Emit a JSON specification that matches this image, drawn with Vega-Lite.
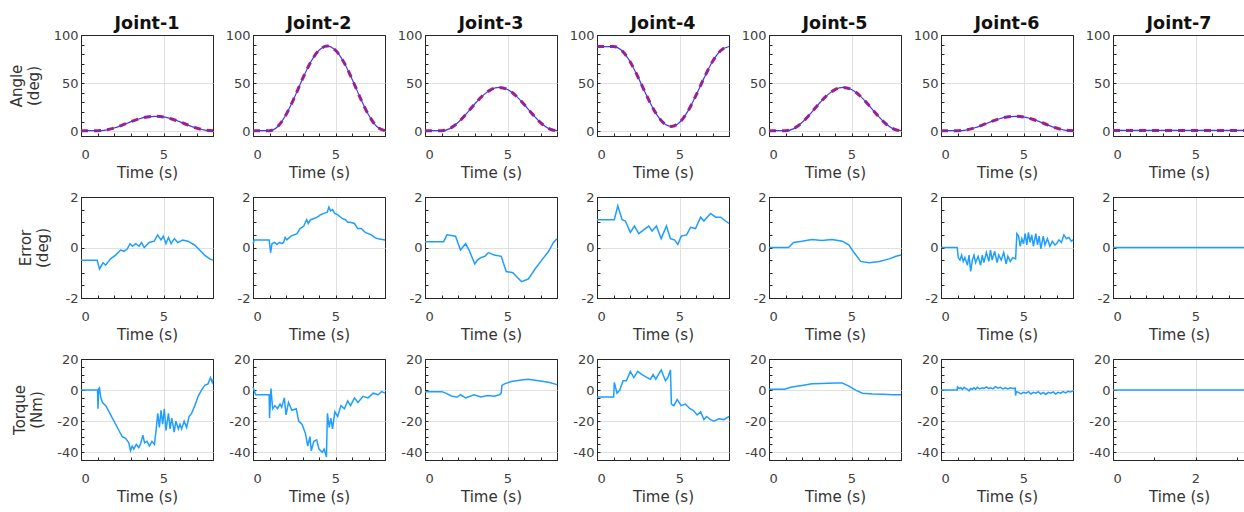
{
"$schema":"https://vega.github.io/schema/vega-lite/v6.json",
"padding":{"left":8,"top":14,"right":0,"bottom":5},
"datasets":{
"ang":[
{"j":1,"t":0,"d":0.5,"a":0.5},{"j":1,"t":0.5,"d":0.5,"a":0.5},{"j":1,"t":1,"d":0.5,"a":0.5},{"j":1,"t":1.5,"d":1.2,"a":1.2},{"j":1,"t":2,"d":3.3,"a":3.3},{"j":1,"t":2.5,"d":6.3,"a":6.3},{"j":1,"t":3,"d":9.7,"a":9.7},{"j":1,"t":3.5,"d":12.7,"a":12.7},{"j":1,"t":4,"d":14.8,"a":14.8},{"j":1,"t":4.5,"d":15.5,"a":15.5},{"j":1,"t":5,"d":14.8,"a":14.8},{"j":1,"t":5.5,"d":12.7,"a":12.7},{"j":1,"t":6,"d":9.7,"a":9.7},{"j":1,"t":6.5,"d":6.3,"a":6.3},{"j":1,"t":7,"d":3.3,"a":3.3},{"j":1,"t":7.5,"d":1.2,"a":1.2},{"j":1,"t":8,"d":0.5,"a":0.5},
{"j":2,"t":0,"d":0.5,"a":0.5},{"j":2,"t":0.5,"d":0.5,"a":0.5},{"j":2,"t":1,"d":0.5,"a":0.5},{"j":2,"t":1.5,"d":4.9,"a":4.9},{"j":2,"t":2,"d":17.1,"a":17.1},{"j":2,"t":2.5,"d":34.7,"a":34.7},{"j":2,"t":3,"d":54.3,"a":54.3},{"j":2,"t":3.5,"d":71.9,"a":71.9},{"j":2,"t":4,"d":84.1,"a":84.1},{"j":2,"t":4.5,"d":88.5,"a":88.5},{"j":2,"t":5,"d":84.1,"a":84.1},{"j":2,"t":5.5,"d":71.9,"a":71.9},{"j":2,"t":6,"d":54.3,"a":54.3},{"j":2,"t":6.5,"d":34.7,"a":34.7},{"j":2,"t":7,"d":17.1,"a":17.1},{"j":2,"t":7.5,"d":4.9,"a":4.9},{"j":2,"t":8,"d":0.5,"a":0.5},
{"j":3,"t":0,"d":0.5,"a":0.5},{"j":3,"t":0.5,"d":0.5,"a":0.5},{"j":3,"t":1,"d":0.5,"a":0.5},{"j":3,"t":1.5,"d":2.7,"a":2.7},{"j":3,"t":2,"d":9,"a":9},{"j":3,"t":2.5,"d":18,"a":18},{"j":3,"t":3,"d":28,"a":28},{"j":3,"t":3.5,"d":37,"a":37},{"j":3,"t":4,"d":43.3,"a":43.3},{"j":3,"t":4.5,"d":45.5,"a":45.5},{"j":3,"t":5,"d":43.3,"a":43.3},{"j":3,"t":5.5,"d":37,"a":37},{"j":3,"t":6,"d":28,"a":28},{"j":3,"t":6.5,"d":18,"a":18},{"j":3,"t":7,"d":9,"a":9},{"j":3,"t":7.5,"d":2.7,"a":2.7},{"j":3,"t":8,"d":0.5,"a":0.5},
{"j":4,"t":0,"d":88,"a":88},{"j":4,"t":0.5,"d":88,"a":88},{"j":4,"t":1,"d":88,"a":88},{"j":4,"t":1.5,"d":83.9,"a":83.9},{"j":4,"t":2,"d":72.4,"a":72.4},{"j":4,"t":2.5,"d":55.7,"a":55.7},{"j":4,"t":3,"d":37.3,"a":37.3},{"j":4,"t":3.5,"d":20.6,"a":20.6},{"j":4,"t":4,"d":9.1,"a":9.1},{"j":4,"t":4.5,"d":5,"a":5},{"j":4,"t":5,"d":9.1,"a":9.1},{"j":4,"t":5.5,"d":20.6,"a":20.6},{"j":4,"t":6,"d":37.3,"a":37.3},{"j":4,"t":6.5,"d":55.7,"a":55.7},{"j":4,"t":7,"d":72.4,"a":72.4},{"j":4,"t":7.5,"d":83.9,"a":83.9},{"j":4,"t":8,"d":88,"a":88},
{"j":5,"t":0,"d":0.5,"a":0.5},{"j":5,"t":0.5,"d":0.5,"a":0.5},{"j":5,"t":1,"d":0.5,"a":0.5},{"j":5,"t":1.5,"d":2.7,"a":2.7},{"j":5,"t":2,"d":9,"a":9},{"j":5,"t":2.5,"d":18,"a":18},{"j":5,"t":3,"d":28,"a":28},{"j":5,"t":3.5,"d":37,"a":37},{"j":5,"t":4,"d":43.3,"a":43.3},{"j":5,"t":4.5,"d":45.5,"a":45.5},{"j":5,"t":5,"d":43.3,"a":43.3},{"j":5,"t":5.5,"d":37,"a":37},{"j":5,"t":6,"d":28,"a":28},{"j":5,"t":6.5,"d":18,"a":18},{"j":5,"t":7,"d":9,"a":9},{"j":5,"t":7.5,"d":2.7,"a":2.7},{"j":5,"t":8,"d":0.5,"a":0.5},
{"j":6,"t":0,"d":0.5,"a":0.5},{"j":6,"t":0.5,"d":0.5,"a":0.5},{"j":6,"t":1,"d":0.5,"a":0.5},{"j":6,"t":1.5,"d":1.2,"a":1.2},{"j":6,"t":2,"d":3.3,"a":3.3},{"j":6,"t":2.5,"d":6.3,"a":6.3},{"j":6,"t":3,"d":9.7,"a":9.7},{"j":6,"t":3.5,"d":12.7,"a":12.7},{"j":6,"t":4,"d":14.8,"a":14.8},{"j":6,"t":4.5,"d":15.5,"a":15.5},{"j":6,"t":5,"d":14.8,"a":14.8},{"j":6,"t":5.5,"d":12.7,"a":12.7},{"j":6,"t":6,"d":9.7,"a":9.7},{"j":6,"t":6.5,"d":6.3,"a":6.3},{"j":6,"t":7,"d":3.3,"a":3.3},{"j":6,"t":7.5,"d":1.2,"a":1.2},{"j":6,"t":8,"d":0.5,"a":0.5},
{"j":7,"t":0,"d":0.8,"a":0.8},{"j":7,"t":2,"d":0.8,"a":0.8},{"j":7,"t":4,"d":0.8,"a":0.8},{"j":7,"t":6,"d":0.8,"a":0.8},{"j":7,"t":8,"d":0.8,"a":0.8}
],
"err":[
{"j":1,"t":0,"e":-0.5},{"j":1,"t":0.98,"e":-0.5},{"j":1,"t":1.12,"e":-0.85},{"j":1,"t":1.34,"e":-0.6},{"j":1,"t":1.49,"e":-0.7},{"j":1,"t":1.79,"e":-0.45},{"j":1,"t":2.1,"e":-0.3},{"j":1,"t":2.4,"e":-0.1},{"j":1,"t":2.61,"e":-0.15},{"j":1,"t":2.81,"e":-0.05},{"j":1,"t":2.97,"e":0.15},{"j":1,"t":3.12,"e":0.05},{"j":1,"t":3.32,"e":0.15},{"j":1,"t":3.52,"e":0.05},{"j":1,"t":3.67,"e":0.2},{"j":1,"t":3.83,"e":0},{"j":1,"t":4.13,"e":0.2},{"j":1,"t":4.44,"e":0.25},{"j":1,"t":4.64,"e":0.5},{"j":1,"t":4.85,"e":0.3},{"j":1,"t":4.99,"e":0.45},{"j":1,"t":5.15,"e":0.15},{"j":1,"t":5.3,"e":0.4},{"j":1,"t":5.46,"e":0.15},{"j":1,"t":5.66,"e":0.35},{"j":1,"t":5.87,"e":0.2},{"j":1,"t":6.17,"e":0.3},{"j":1,"t":6.48,"e":0.25},{"j":1,"t":6.88,"e":0.1},{"j":1,"t":7.19,"e":-0.1},{"j":1,"t":7.49,"e":-0.3},{"j":1,"t":7.8,"e":-0.45},{"j":1,"t":8,"e":-0.5},
{"j":2,"t":0,"e":0.15},{"j":2,"t":0.08,"e":0.3},{"j":2,"t":0.98,"e":0.3},{"j":2,"t":1.07,"e":-0.2},{"j":2,"t":1.15,"e":0.15},{"j":2,"t":1.3,"e":0.2},{"j":2,"t":1.45,"e":0.12},{"j":2,"t":1.6,"e":0.2},{"j":2,"t":1.75,"e":0.15},{"j":2,"t":1.85,"e":0.2},{"j":2,"t":1.95,"e":0.4},{"j":2,"t":2.05,"e":0.3},{"j":2,"t":2.3,"e":0.45},{"j":2,"t":2.67,"e":0.55},{"j":2,"t":2.85,"e":0.75},{"j":2,"t":3.08,"e":0.85},{"j":2,"t":3.25,"e":1.1},{"j":2,"t":3.35,"e":0.95},{"j":2,"t":3.49,"e":1.1},{"j":2,"t":3.7,"e":1.15},{"j":2,"t":3.9,"e":1.2},{"j":2,"t":4.1,"e":1.3},{"j":2,"t":4.3,"e":1.35},{"j":2,"t":4.5,"e":1.4},{"j":2,"t":4.6,"e":1.6},{"j":2,"t":4.7,"e":1.45},{"j":2,"t":4.82,"e":1.5},{"j":2,"t":4.95,"e":1.35},{"j":2,"t":5.13,"e":1.3},{"j":2,"t":5.4,"e":1.15},{"j":2,"t":5.6,"e":1.1},{"j":2,"t":5.74,"e":1.0},{"j":2,"t":5.9,"e":1.0},{"j":2,"t":6.15,"e":0.95},{"j":2,"t":6.35,"e":0.75},{"j":2,"t":6.56,"e":0.75},{"j":2,"t":6.8,"e":0.6},{"j":2,"t":7.18,"e":0.5},{"j":2,"t":7.4,"e":0.38},{"j":2,"t":7.59,"e":0.35},{"j":2,"t":8,"e":0.3},
{"j":3,"t":0,"e":0.23},{"j":3,"t":1.13,"e":0.23},{"j":3,"t":1.33,"e":0.5},{"j":3,"t":1.85,"e":0.45},{"j":3,"t":2.15,"e":-0.1},{"j":3,"t":2.46,"e":0.15},{"j":3,"t":2.67,"e":-0.1},{"j":3,"t":3.02,"e":-0.65},{"j":3,"t":3.18,"e":-0.5},{"j":3,"t":3.38,"e":-0.4},{"j":3,"t":3.63,"e":-0.35},{"j":3,"t":3.84,"e":-0.2},{"j":3,"t":4.2,"e":-0.3},{"j":3,"t":4.62,"e":-0.35},{"j":3,"t":4.92,"e":-0.95},{"j":3,"t":5.33,"e":-1.0},{"j":3,"t":5.54,"e":-1.15},{"j":3,"t":5.85,"e":-1.35},{"j":3,"t":6.26,"e":-1.25},{"j":3,"t":6.67,"e":-0.85},{"j":3,"t":7.08,"e":-0.5},{"j":3,"t":7.49,"e":-0.15},{"j":3,"t":7.79,"e":0.2},{"j":3,"t":8,"e":0.35},
{"j":4,"t":0,"e":1.1},{"j":4,"t":1.05,"e":1.1},{"j":4,"t":1.26,"e":1.65},{"j":4,"t":1.52,"e":1.1},{"j":4,"t":1.72,"e":1.05},{"j":4,"t":2.02,"e":0.6},{"j":4,"t":2.27,"e":0.85},{"j":4,"t":2.53,"e":0.55},{"j":4,"t":2.83,"e":0.7},{"j":4,"t":3.14,"e":0.85},{"j":4,"t":3.34,"e":0.65},{"j":4,"t":3.6,"e":0.85},{"j":4,"t":3.89,"e":0.35},{"j":4,"t":4.21,"e":0.85},{"j":4,"t":4.45,"e":0.35},{"j":4,"t":4.7,"e":0.3},{"j":4,"t":4.9,"e":0.12},{"j":4,"t":5.1,"e":0.45},{"j":4,"t":5.43,"e":0.5},{"j":4,"t":5.67,"e":0.8},{"j":4,"t":5.97,"e":0.75},{"j":4,"t":6.28,"e":1.2},{"j":4,"t":6.48,"e":1.05},{"j":4,"t":6.88,"e":1.35},{"j":4,"t":7.19,"e":1.2},{"j":4,"t":7.49,"e":1.2},{"j":4,"t":7.69,"e":1.1},{"j":4,"t":8,"e":0.95},
{"j":5,"t":0,"e":0},{"j":5,"t":1.18,"e":0},{"j":5,"t":1.49,"e":0.2},{"j":5,"t":2,"e":0.25},{"j":5,"t":2.6,"e":0.32},{"j":5,"t":3.2,"e":0.28},{"j":5,"t":3.83,"e":0.32},{"j":5,"t":4.44,"e":0.25},{"j":5,"t":4.85,"e":0.1},{"j":5,"t":5.15,"e":-0.2},{"j":5,"t":5.56,"e":-0.55},{"j":5,"t":6.07,"e":-0.6},{"j":5,"t":6.68,"e":-0.55},{"j":5,"t":7.29,"e":-0.45},{"j":5,"t":7.7,"e":-0.35},{"j":5,"t":8,"e":-0.3},
{"j":6,"t":0,"e":0},{"j":6,"t":0.98,"e":0},{"j":6,"t":1.05,"e":-0.4},{"j":6,"t":1.15,"e":-0.5},{"j":6,"t":1.25,"e":-0.3},{"j":6,"t":1.35,"e":-0.55},{"j":6,"t":1.45,"e":-0.4},{"j":6,"t":1.6,"e":-0.7},{"j":6,"t":1.7,"e":-0.3},{"j":6,"t":1.8,"e":-0.95},{"j":6,"t":1.9,"e":-0.5},{"j":6,"t":2.0,"e":-0.3},{"j":6,"t":2.1,"e":-0.6},{"j":6,"t":2.25,"e":-0.35},{"j":6,"t":2.4,"e":-0.7},{"j":6,"t":2.5,"e":-0.3},{"j":6,"t":2.6,"e":-0.6},{"j":6,"t":2.75,"e":-0.2},{"j":6,"t":2.9,"e":-0.55},{"j":6,"t":3.0,"e":-0.1},{"j":6,"t":3.1,"e":-0.5},{"j":6,"t":3.25,"e":-0.15},{"j":6,"t":3.4,"e":-0.6},{"j":6,"t":3.5,"e":-0.3},{"j":6,"t":3.65,"e":-0.5},{"j":6,"t":3.8,"e":-0.2},{"j":6,"t":3.95,"e":-0.65},{"j":6,"t":4.05,"e":-0.35},{"j":6,"t":4.2,"e":-0.55},{"j":6,"t":4.35,"e":-0.4},{"j":6,"t":4.52,"e":-0.45},{"j":6,"t":4.6,"e":0.55},{"j":6,"t":4.7,"e":0.45},{"j":6,"t":4.8,"e":0.05},{"j":6,"t":4.9,"e":0.35},{"j":6,"t":5.0,"e":0.15},{"j":6,"t":5.1,"e":0.55},{"j":6,"t":5.2,"e":0.1},{"j":6,"t":5.3,"e":0.6},{"j":6,"t":5.4,"e":0.2},{"j":6,"t":5.5,"e":0.5},{"j":6,"t":5.6,"e":0.05},{"j":6,"t":5.75,"e":0.55},{"j":6,"t":5.85,"e":0.1},{"j":6,"t":5.95,"e":0.45},{"j":6,"t":6.05,"e":-0.05},{"j":6,"t":6.2,"e":0.45},{"j":6,"t":6.3,"e":0.1},{"j":6,"t":6.45,"e":0.35},{"j":6,"t":6.6,"e":0.05},{"j":6,"t":6.75,"e":0.25},{"j":6,"t":6.9,"e":0.1},{"j":6,"t":7.0,"e":0.15},{"j":6,"t":7.15,"e":0.3},{"j":6,"t":7.3,"e":0.2},{"j":6,"t":7.45,"e":0.5},{"j":6,"t":7.6,"e":0.35},{"j":6,"t":7.75,"e":0.4},{"j":6,"t":7.9,"e":0.25},{"j":6,"t":8,"e":0.3},
{"j":7,"t":0,"e":0},{"j":7,"t":8,"e":0}
],
"tor":[
{"j":1,"t":0,"q":0},{"j":1,"t":1.0,"q":0},{"j":1,"t":1.03,"q":-12},{"j":1,"t":1.07,"q":1},{"j":1,"t":1.12,"q":1.5},{"j":1,"t":1.2,"q":-5},{"j":1,"t":1.3,"q":-8},{"j":1,"t":1.5,"q":-10},{"j":1,"t":1.7,"q":-14},{"j":1,"t":1.9,"q":-18},{"j":1,"t":2.1,"q":-22},{"j":1,"t":2.3,"q":-26},{"j":1,"t":2.5,"q":-30},{"j":1,"t":2.7,"q":-31},{"j":1,"t":2.9,"q":-34},{"j":1,"t":3.0,"q":-39},{"j":1,"t":3.1,"q":-36},{"j":1,"t":3.2,"q":-38},{"j":1,"t":3.35,"q":-35},{"j":1,"t":3.5,"q":-37},{"j":1,"t":3.6,"q":-35},{"j":1,"t":3.75,"q":-29},{"j":1,"t":3.85,"q":-34},{"j":1,"t":4.0,"q":-33},{"j":1,"t":4.15,"q":-36},{"j":1,"t":4.3,"q":-33},{"j":1,"t":4.45,"q":-35},{"j":1,"t":4.55,"q":-26},{"j":1,"t":4.65,"q":-15},{"j":1,"t":4.75,"q":-24},{"j":1,"t":4.85,"q":-13},{"j":1,"t":4.95,"q":-22},{"j":1,"t":5.05,"q":-12},{"j":1,"t":5.15,"q":-26},{"j":1,"t":5.3,"q":-15},{"j":1,"t":5.4,"q":-25},{"j":1,"t":5.5,"q":-18},{"j":1,"t":5.65,"q":-27},{"j":1,"t":5.75,"q":-20},{"j":1,"t":5.9,"q":-25},{"j":1,"t":6.0,"q":-22},{"j":1,"t":6.1,"q":-25},{"j":1,"t":6.25,"q":-20},{"j":1,"t":6.4,"q":-24},{"j":1,"t":6.55,"q":-17},{"j":1,"t":6.7,"q":-15},{"j":1,"t":6.9,"q":-10},{"j":1,"t":7.1,"q":-4},{"j":1,"t":7.3,"q":0},{"j":1,"t":7.5,"q":3},{"j":1,"t":7.7,"q":4},{"j":1,"t":7.85,"q":8},{"j":1,"t":7.95,"q":5},{"j":1,"t":8,"q":7},
{"j":2,"t":0,"q":2},{"j":2,"t":0.16,"q":-3},{"j":2,"t":0.98,"q":-3},{"j":2,"t":1.0,"q":-18},{"j":2,"t":1.09,"q":1},{"j":2,"t":1.19,"q":-12},{"j":2,"t":1.33,"q":-10},{"j":2,"t":1.48,"q":-12},{"j":2,"t":1.64,"q":-9},{"j":2,"t":1.74,"q":-11},{"j":2,"t":1.9,"q":-5},{"j":2,"t":2.0,"q":-16},{"j":2,"t":2.15,"q":-8},{"j":2,"t":2.36,"q":-13},{"j":2,"t":2.62,"q":-12},{"j":2,"t":2.77,"q":-20},{"j":2,"t":2.97,"q":-22},{"j":2,"t":3.18,"q":-28},{"j":2,"t":3.32,"q":-36},{"j":2,"t":3.45,"q":-30},{"j":2,"t":3.53,"q":-39},{"j":2,"t":3.69,"q":-33},{"j":2,"t":3.86,"q":-32},{"j":2,"t":4.0,"q":-38},{"j":2,"t":4.2,"q":-40},{"j":2,"t":4.31,"q":-38},{"j":2,"t":4.45,"q":-43},{"j":2,"t":4.51,"q":-15},{"j":2,"t":4.62,"q":-24},{"j":2,"t":4.72,"q":-18},{"j":2,"t":4.82,"q":-25},{"j":2,"t":4.96,"q":-14},{"j":2,"t":5.13,"q":-17},{"j":2,"t":5.33,"q":-10},{"j":2,"t":5.54,"q":-12},{"j":2,"t":5.74,"q":-7},{"j":2,"t":5.91,"q":-10},{"j":2,"t":6.15,"q":-5},{"j":2,"t":6.36,"q":-8},{"j":2,"t":6.67,"q":-4},{"j":2,"t":6.97,"q":-5},{"j":2,"t":7.28,"q":-2},{"j":2,"t":7.59,"q":-3},{"j":2,"t":7.79,"q":-1},{"j":2,"t":8,"q":-2},
{"j":3,"t":0,"q":-1},{"j":3,"t":1.03,"q":-1},{"j":3,"t":1.25,"q":-2},{"j":3,"t":1.64,"q":-4},{"j":3,"t":1.95,"q":-4.5},{"j":3,"t":2.15,"q":-3},{"j":3,"t":2.46,"q":-5},{"j":3,"t":2.97,"q":-3},{"j":3,"t":3.38,"q":-4.5},{"j":3,"t":3.79,"q":-3.5},{"j":3,"t":4.2,"q":-4},{"j":3,"t":4.51,"q":-3},{"j":3,"t":4.62,"q":-2},{"j":3,"t":4.66,"q":3},{"j":3,"t":4.82,"q":4},{"j":3,"t":5.23,"q":5.5},{"j":3,"t":5.85,"q":6.5},{"j":3,"t":6.26,"q":7},{"j":3,"t":6.87,"q":6},{"j":3,"t":7.49,"q":5},{"j":3,"t":8,"q":3.5},
{"j":4,"t":0,"q":-4.5},{"j":4,"t":1.01,"q":-4.5},{"j":4,"t":1.05,"q":5},{"j":4,"t":1.21,"q":-2},{"j":4,"t":1.38,"q":0},{"j":4,"t":1.58,"q":6},{"j":4,"t":1.78,"q":6},{"j":4,"t":2.02,"q":12},{"j":4,"t":2.23,"q":8},{"j":4,"t":2.47,"q":12},{"j":4,"t":2.73,"q":10},{"j":4,"t":3.04,"q":8},{"j":4,"t":3.24,"q":7},{"j":4,"t":3.4,"q":10},{"j":4,"t":3.56,"q":7},{"j":4,"t":3.89,"q":13},{"j":4,"t":4.15,"q":6},{"j":4,"t":4.29,"q":8},{"j":4,"t":4.45,"q":13},{"j":4,"t":4.51,"q":-9},{"j":4,"t":4.66,"q":-10},{"j":4,"t":4.86,"q":-6},{"j":4,"t":5.1,"q":-10},{"j":4,"t":5.36,"q":-9},{"j":4,"t":5.63,"q":-12},{"j":4,"t":5.83,"q":-13},{"j":4,"t":6.07,"q":-16},{"j":4,"t":6.28,"q":-14},{"j":4,"t":6.48,"q":-19},{"j":4,"t":6.64,"q":-17},{"j":4,"t":6.88,"q":-19},{"j":4,"t":7.09,"q":-20},{"j":4,"t":7.39,"q":-18.5},{"j":4,"t":7.69,"q":-19},{"j":4,"t":8,"q":-17},
{"j":5,"t":0,"q":0.5},{"j":5,"t":0.94,"q":0.5},{"j":5,"t":1.38,"q":2},{"j":5,"t":2.0,"q":3},{"j":5,"t":2.6,"q":4},{"j":5,"t":3.2,"q":4.2},{"j":5,"t":4.03,"q":4.5},{"j":5,"t":4.44,"q":4.5},{"j":5,"t":4.85,"q":2.5},{"j":5,"t":5.25,"q":0},{"j":5,"t":5.66,"q":-2},{"j":5,"t":6.27,"q":-2.5},{"j":5,"t":6.88,"q":-2.7},{"j":5,"t":7.5,"q":-3},{"j":5,"t":8,"q":-3},
{"j":6,"t":0,"q":0},{"j":6,"t":0.98,"q":0},{"j":6,"t":1.0,"q":2},{"j":6,"t":1.1,"q":1},{"j":6,"t":1.2,"q":1.5},{"j":6,"t":1.3,"q":0.5},{"j":6,"t":1.4,"q":1.8},{"j":6,"t":1.5,"q":1},{"j":6,"t":1.6,"q":0.5},{"j":6,"t":1.7,"q":-0.5},{"j":6,"t":1.8,"q":1},{"j":6,"t":1.9,"q":0.5},{"j":6,"t":2.0,"q":1.5},{"j":6,"t":2.1,"q":0.5},{"j":6,"t":2.2,"q":1.8},{"j":6,"t":2.35,"q":0.8},{"j":6,"t":2.5,"q":1.5},{"j":6,"t":2.6,"q":1},{"j":6,"t":2.75,"q":2},{"j":6,"t":2.9,"q":1},{"j":6,"t":3.0,"q":1.5},{"j":6,"t":3.15,"q":0.8},{"j":6,"t":3.3,"q":2.2},{"j":6,"t":3.45,"q":1.2},{"j":6,"t":3.6,"q":1.8},{"j":6,"t":3.75,"q":0.8},{"j":6,"t":3.9,"q":1.5},{"j":6,"t":4.05,"q":0.8},{"j":6,"t":4.2,"q":1.5},{"j":6,"t":4.35,"q":1},{"j":6,"t":4.5,"q":1.2},{"j":6,"t":4.52,"q":-3.5},{"j":6,"t":4.56,"q":-1},{"j":6,"t":4.7,"q":-1.5},{"j":6,"t":4.85,"q":-2.5},{"j":6,"t":5.0,"q":-1.5},{"j":6,"t":5.15,"q":-2},{"j":6,"t":5.3,"q":-1},{"j":6,"t":5.45,"q":-2.5},{"j":6,"t":5.6,"q":-1.5},{"j":6,"t":5.75,"q":-2},{"j":6,"t":5.9,"q":-1},{"j":6,"t":6.05,"q":-2.5},{"j":6,"t":6.2,"q":-1.5},{"j":6,"t":6.35,"q":-2.8},{"j":6,"t":6.5,"q":-1.5},{"j":6,"t":6.65,"q":-2},{"j":6,"t":6.8,"q":-1.2},{"j":6,"t":6.95,"q":-2.5},{"j":6,"t":7.1,"q":-1.5},{"j":6,"t":7.25,"q":-2},{"j":6,"t":7.4,"q":-1},{"j":6,"t":7.55,"q":-1.8},{"j":6,"t":7.7,"q":-0.8},{"j":6,"t":7.85,"q":-1.2},{"j":6,"t":8,"q":-0.5},
{"j":7,"t":0,"q":0},{"j":7,"t":3.2,"q":0}
]
},
"columns":7,
"spacing":{"row":61,"column":40},
"bounds":"flush",
"concat":[
{"title":"Joint-1","width":132,"height":101,"data":{"name":"ang"},"transform":[{"filter":"datum.j==1"}],"encoding":{"x":{"field":"t","type":"quantitative","scale":{"domain":[0,8],"nice":false},"axis":{"values":[0,1,2,3,4,5,6,7,8],"labelExpr":"datum.value==0||datum.value==5?''+datum.value:''","gridColor":{"condition":{"test":"datum.value==5","value":"#e0e0e0"},"value":"transparent"},"title":"Time (s)"}}},"layer":[{"mark":{"type":"line","color":"#e8102e","strokeWidth":3,"strokeDash":[7,6],"interpolate":"monotone"},"encoding":{"y":{"field":"d","type":"quantitative","scale":{"domain":[-5,100],"nice":false},"axis":{"values":[0,10,20,30,40,50,60,70,80,90,100],"labelExpr":"datum.value%50==0?''+datum.value:''","gridColor":{"condition":[{"test":"datum.value==100","value":"#262626"},{"test":"datum.value%50!=0","value":"transparent"}],"value":"#e0e0e0"},"title":["Angle","(deg)"],"titlePadding":12}}}},{"mark":{"type":"line","color":"#3a3aff","strokeWidth":1.2,"interpolate":"monotone"},"encoding":{"y":{"field":"a","type":"quantitative","scale":{"domain":[-5,100],"nice":false},"axis":{"values":[0,10,20,30,40,50,60,70,80,90,100],"labelExpr":"datum.value%50==0?''+datum.value:''","gridColor":{"condition":[{"test":"datum.value==100","value":"#262626"},{"test":"datum.value%50!=0","value":"transparent"}],"value":"#e0e0e0"},"title":["Angle","(deg)"],"titlePadding":12}}}}]},
{"title":"Joint-2","width":132,"height":101,"data":{"name":"ang"},"transform":[{"filter":"datum.j==2"}],"encoding":{"x":{"field":"t","type":"quantitative","scale":{"domain":[0,8],"nice":false},"axis":{"values":[0,1,2,3,4,5,6,7,8],"labelExpr":"datum.value==0||datum.value==5?''+datum.value:''","gridColor":{"condition":{"test":"datum.value==5","value":"#e0e0e0"},"value":"transparent"},"title":"Time (s)"}}},"layer":[{"mark":{"type":"line","color":"#e8102e","strokeWidth":3,"strokeDash":[7,6],"interpolate":"monotone"},"encoding":{"y":{"field":"d","type":"quantitative","scale":{"domain":[-5,100],"nice":false},"axis":{"values":[0,10,20,30,40,50,60,70,80,90,100],"labelExpr":"datum.value%50==0?''+datum.value:''","gridColor":{"condition":[{"test":"datum.value==100","value":"#262626"},{"test":"datum.value%50!=0","value":"transparent"}],"value":"#e0e0e0"},"title":null}}}},{"mark":{"type":"line","color":"#3a3aff","strokeWidth":1.2,"interpolate":"monotone"},"encoding":{"y":{"field":"a","type":"quantitative","scale":{"domain":[-5,100],"nice":false},"axis":{"values":[0,10,20,30,40,50,60,70,80,90,100],"labelExpr":"datum.value%50==0?''+datum.value:''","gridColor":{"condition":[{"test":"datum.value==100","value":"#262626"},{"test":"datum.value%50!=0","value":"transparent"}],"value":"#e0e0e0"},"title":null}}}}]},
{"title":"Joint-3","width":132,"height":101,"data":{"name":"ang"},"transform":[{"filter":"datum.j==3"}],"encoding":{"x":{"field":"t","type":"quantitative","scale":{"domain":[0,8],"nice":false},"axis":{"values":[0,1,2,3,4,5,6,7,8],"labelExpr":"datum.value==0||datum.value==5?''+datum.value:''","gridColor":{"condition":{"test":"datum.value==5","value":"#e0e0e0"},"value":"transparent"},"title":"Time (s)"}}},"layer":[{"mark":{"type":"line","color":"#e8102e","strokeWidth":3,"strokeDash":[7,6],"interpolate":"monotone"},"encoding":{"y":{"field":"d","type":"quantitative","scale":{"domain":[-5,100],"nice":false},"axis":{"values":[0,10,20,30,40,50,60,70,80,90,100],"labelExpr":"datum.value%50==0?''+datum.value:''","gridColor":{"condition":[{"test":"datum.value==100","value":"#262626"},{"test":"datum.value%50!=0","value":"transparent"}],"value":"#e0e0e0"},"title":null}}}},{"mark":{"type":"line","color":"#3a3aff","strokeWidth":1.2,"interpolate":"monotone"},"encoding":{"y":{"field":"a","type":"quantitative","scale":{"domain":[-5,100],"nice":false},"axis":{"values":[0,10,20,30,40,50,60,70,80,90,100],"labelExpr":"datum.value%50==0?''+datum.value:''","gridColor":{"condition":[{"test":"datum.value==100","value":"#262626"},{"test":"datum.value%50!=0","value":"transparent"}],"value":"#e0e0e0"},"title":null}}}}]},
{"title":"Joint-4","width":132,"height":101,"data":{"name":"ang"},"transform":[{"filter":"datum.j==4"}],"encoding":{"x":{"field":"t","type":"quantitative","scale":{"domain":[0,8],"nice":false},"axis":{"values":[0,1,2,3,4,5,6,7,8],"labelExpr":"datum.value==0||datum.value==5?''+datum.value:''","gridColor":{"condition":{"test":"datum.value==5","value":"#e0e0e0"},"value":"transparent"},"title":"Time (s)"}}},"layer":[{"mark":{"type":"line","color":"#e8102e","strokeWidth":3,"strokeDash":[7,6],"interpolate":"monotone"},"encoding":{"y":{"field":"d","type":"quantitative","scale":{"domain":[-5,100],"nice":false},"axis":{"values":[0,10,20,30,40,50,60,70,80,90,100],"labelExpr":"datum.value%50==0?''+datum.value:''","gridColor":{"condition":[{"test":"datum.value==100","value":"#262626"},{"test":"datum.value%50!=0","value":"transparent"}],"value":"#e0e0e0"},"title":null}}}},{"mark":{"type":"line","color":"#3a3aff","strokeWidth":1.2,"interpolate":"monotone"},"encoding":{"y":{"field":"a","type":"quantitative","scale":{"domain":[-5,100],"nice":false},"axis":{"values":[0,10,20,30,40,50,60,70,80,90,100],"labelExpr":"datum.value%50==0?''+datum.value:''","gridColor":{"condition":[{"test":"datum.value==100","value":"#262626"},{"test":"datum.value%50!=0","value":"transparent"}],"value":"#e0e0e0"},"title":null}}}}]},
{"title":"Joint-5","width":132,"height":101,"data":{"name":"ang"},"transform":[{"filter":"datum.j==5"}],"encoding":{"x":{"field":"t","type":"quantitative","scale":{"domain":[0,8],"nice":false},"axis":{"values":[0,1,2,3,4,5,6,7,8],"labelExpr":"datum.value==0||datum.value==5?''+datum.value:''","gridColor":{"condition":{"test":"datum.value==5","value":"#e0e0e0"},"value":"transparent"},"title":"Time (s)"}}},"layer":[{"mark":{"type":"line","color":"#e8102e","strokeWidth":3,"strokeDash":[7,6],"interpolate":"monotone"},"encoding":{"y":{"field":"d","type":"quantitative","scale":{"domain":[-5,100],"nice":false},"axis":{"values":[0,10,20,30,40,50,60,70,80,90,100],"labelExpr":"datum.value%50==0?''+datum.value:''","gridColor":{"condition":[{"test":"datum.value==100","value":"#262626"},{"test":"datum.value%50!=0","value":"transparent"}],"value":"#e0e0e0"},"title":null}}}},{"mark":{"type":"line","color":"#3a3aff","strokeWidth":1.2,"interpolate":"monotone"},"encoding":{"y":{"field":"a","type":"quantitative","scale":{"domain":[-5,100],"nice":false},"axis":{"values":[0,10,20,30,40,50,60,70,80,90,100],"labelExpr":"datum.value%50==0?''+datum.value:''","gridColor":{"condition":[{"test":"datum.value==100","value":"#262626"},{"test":"datum.value%50!=0","value":"transparent"}],"value":"#e0e0e0"},"title":null}}}}]},
{"title":"Joint-6","width":132,"height":101,"data":{"name":"ang"},"transform":[{"filter":"datum.j==6"}],"encoding":{"x":{"field":"t","type":"quantitative","scale":{"domain":[0,8],"nice":false},"axis":{"values":[0,1,2,3,4,5,6,7,8],"labelExpr":"datum.value==0||datum.value==5?''+datum.value:''","gridColor":{"condition":{"test":"datum.value==5","value":"#e0e0e0"},"value":"transparent"},"title":"Time (s)"}}},"layer":[{"mark":{"type":"line","color":"#e8102e","strokeWidth":3,"strokeDash":[7,6],"interpolate":"monotone"},"encoding":{"y":{"field":"d","type":"quantitative","scale":{"domain":[-5,100],"nice":false},"axis":{"values":[0,10,20,30,40,50,60,70,80,90,100],"labelExpr":"datum.value%50==0?''+datum.value:''","gridColor":{"condition":[{"test":"datum.value==100","value":"#262626"},{"test":"datum.value%50!=0","value":"transparent"}],"value":"#e0e0e0"},"title":null}}}},{"mark":{"type":"line","color":"#3a3aff","strokeWidth":1.2,"interpolate":"monotone"},"encoding":{"y":{"field":"a","type":"quantitative","scale":{"domain":[-5,100],"nice":false},"axis":{"values":[0,10,20,30,40,50,60,70,80,90,100],"labelExpr":"datum.value%50==0?''+datum.value:''","gridColor":{"condition":[{"test":"datum.value==100","value":"#262626"},{"test":"datum.value%50!=0","value":"transparent"}],"value":"#e0e0e0"},"title":null}}}}]},
{"title":"Joint-7","width":132,"height":101,"data":{"name":"ang"},"transform":[{"filter":"datum.j==7"}],"encoding":{"x":{"field":"t","type":"quantitative","scale":{"domain":[0,8],"nice":false},"axis":{"values":[0,1,2,3,4,5,6,7,8],"labelExpr":"datum.value==0||datum.value==5?''+datum.value:''","gridColor":{"condition":{"test":"datum.value==5","value":"#e0e0e0"},"value":"transparent"},"title":"Time (s)"}}},"layer":[{"mark":{"type":"line","color":"#e8102e","strokeWidth":3,"strokeDash":[7,6],"interpolate":"monotone"},"encoding":{"y":{"field":"d","type":"quantitative","scale":{"domain":[-5,100],"nice":false},"axis":{"values":[0,10,20,30,40,50,60,70,80,90,100],"labelExpr":"datum.value%50==0?''+datum.value:''","gridColor":{"condition":[{"test":"datum.value==100","value":"#262626"},{"test":"datum.value%50!=0","value":"transparent"}],"value":"#e0e0e0"},"title":null}}}},{"mark":{"type":"line","color":"#3a3aff","strokeWidth":1.2,"interpolate":"monotone"},"encoding":{"y":{"field":"a","type":"quantitative","scale":{"domain":[-5,100],"nice":false},"axis":{"values":[0,10,20,30,40,50,60,70,80,90,100],"labelExpr":"datum.value%50==0?''+datum.value:''","gridColor":{"condition":[{"test":"datum.value==100","value":"#262626"},{"test":"datum.value%50!=0","value":"transparent"}],"value":"#e0e0e0"},"title":null}}}}]},
{"width":132,"height":101,"data":{"name":"err"},"transform":[{"filter":"datum.j==1"}],"mark":{"type":"line","color":"#1f9eff","strokeWidth":1.5},"encoding":{"x":{"field":"t","type":"quantitative","scale":{"domain":[0,8],"nice":false},"axis":{"values":[0,1,2,3,4,5,6,7,8],"labelExpr":"datum.value==0||datum.value==5?''+datum.value:''","gridColor":{"condition":{"test":"datum.value==5","value":"#e0e0e0"},"value":"transparent"},"title":"Time (s)"}},"y":{"field":"e","type":"quantitative","scale":{"domain":[-2,2],"nice":false},"axis":{"values":[-2,-1.5,-1,-0.5,0,0.5,1,1.5,2],"labelExpr":"datum.value%2==0?''+datum.value:''","gridColor":{"condition":[{"test":"datum.value==2","value":"#262626"},{"test":"datum.value!=0","value":"transparent"}],"value":"#e0e0e0"},"title":["Error","(deg)"],"titlePadding":15}}}},
{"width":132,"height":101,"data":{"name":"err"},"transform":[{"filter":"datum.j==2"}],"mark":{"type":"line","color":"#1f9eff","strokeWidth":1.5},"encoding":{"x":{"field":"t","type":"quantitative","scale":{"domain":[0,8],"nice":false},"axis":{"values":[0,1,2,3,4,5,6,7,8],"labelExpr":"datum.value==0||datum.value==5?''+datum.value:''","gridColor":{"condition":{"test":"datum.value==5","value":"#e0e0e0"},"value":"transparent"},"title":"Time (s)"}},"y":{"field":"e","type":"quantitative","scale":{"domain":[-2,2],"nice":false},"axis":{"values":[-2,-1.5,-1,-0.5,0,0.5,1,1.5,2],"labelExpr":"datum.value%2==0?''+datum.value:''","gridColor":{"condition":[{"test":"datum.value==2","value":"#262626"},{"test":"datum.value!=0","value":"transparent"}],"value":"#e0e0e0"},"title":null}}}},
{"width":132,"height":101,"data":{"name":"err"},"transform":[{"filter":"datum.j==3"}],"mark":{"type":"line","color":"#1f9eff","strokeWidth":1.5},"encoding":{"x":{"field":"t","type":"quantitative","scale":{"domain":[0,8],"nice":false},"axis":{"values":[0,1,2,3,4,5,6,7,8],"labelExpr":"datum.value==0||datum.value==5?''+datum.value:''","gridColor":{"condition":{"test":"datum.value==5","value":"#e0e0e0"},"value":"transparent"},"title":"Time (s)"}},"y":{"field":"e","type":"quantitative","scale":{"domain":[-2,2],"nice":false},"axis":{"values":[-2,-1.5,-1,-0.5,0,0.5,1,1.5,2],"labelExpr":"datum.value%2==0?''+datum.value:''","gridColor":{"condition":[{"test":"datum.value==2","value":"#262626"},{"test":"datum.value!=0","value":"transparent"}],"value":"#e0e0e0"},"title":null}}}},
{"width":132,"height":101,"data":{"name":"err"},"transform":[{"filter":"datum.j==4"}],"mark":{"type":"line","color":"#1f9eff","strokeWidth":1.5},"encoding":{"x":{"field":"t","type":"quantitative","scale":{"domain":[0,8],"nice":false},"axis":{"values":[0,1,2,3,4,5,6,7,8],"labelExpr":"datum.value==0||datum.value==5?''+datum.value:''","gridColor":{"condition":{"test":"datum.value==5","value":"#e0e0e0"},"value":"transparent"},"title":"Time (s)"}},"y":{"field":"e","type":"quantitative","scale":{"domain":[-2,2],"nice":false},"axis":{"values":[-2,-1.5,-1,-0.5,0,0.5,1,1.5,2],"labelExpr":"datum.value%2==0?''+datum.value:''","gridColor":{"condition":[{"test":"datum.value==2","value":"#262626"},{"test":"datum.value!=0","value":"transparent"}],"value":"#e0e0e0"},"title":null}}}},
{"width":132,"height":101,"data":{"name":"err"},"transform":[{"filter":"datum.j==5"}],"mark":{"type":"line","color":"#1f9eff","strokeWidth":1.5},"encoding":{"x":{"field":"t","type":"quantitative","scale":{"domain":[0,8],"nice":false},"axis":{"values":[0,1,2,3,4,5,6,7,8],"labelExpr":"datum.value==0||datum.value==5?''+datum.value:''","gridColor":{"condition":{"test":"datum.value==5","value":"#e0e0e0"},"value":"transparent"},"title":"Time (s)"}},"y":{"field":"e","type":"quantitative","scale":{"domain":[-2,2],"nice":false},"axis":{"values":[-2,-1.5,-1,-0.5,0,0.5,1,1.5,2],"labelExpr":"datum.value%2==0?''+datum.value:''","gridColor":{"condition":[{"test":"datum.value==2","value":"#262626"},{"test":"datum.value!=0","value":"transparent"}],"value":"#e0e0e0"},"title":null}}}},
{"width":132,"height":101,"data":{"name":"err"},"transform":[{"filter":"datum.j==6"}],"mark":{"type":"line","color":"#1f9eff","strokeWidth":1.5},"encoding":{"x":{"field":"t","type":"quantitative","scale":{"domain":[0,8],"nice":false},"axis":{"values":[0,1,2,3,4,5,6,7,8],"labelExpr":"datum.value==0||datum.value==5?''+datum.value:''","gridColor":{"condition":{"test":"datum.value==5","value":"#e0e0e0"},"value":"transparent"},"title":"Time (s)"}},"y":{"field":"e","type":"quantitative","scale":{"domain":[-2,2],"nice":false},"axis":{"values":[-2,-1.5,-1,-0.5,0,0.5,1,1.5,2],"labelExpr":"datum.value%2==0?''+datum.value:''","gridColor":{"condition":[{"test":"datum.value==2","value":"#262626"},{"test":"datum.value!=0","value":"transparent"}],"value":"#e0e0e0"},"title":null}}}},
{"width":132,"height":101,"data":{"name":"err"},"transform":[{"filter":"datum.j==7"}],"mark":{"type":"line","color":"#1f9eff","strokeWidth":1.5},"encoding":{"x":{"field":"t","type":"quantitative","scale":{"domain":[0,8],"nice":false},"axis":{"values":[0,1,2,3,4,5,6,7,8],"labelExpr":"datum.value==0||datum.value==5?''+datum.value:''","gridColor":{"condition":{"test":"datum.value==5","value":"#e0e0e0"},"value":"transparent"},"title":"Time (s)"}},"y":{"field":"e","type":"quantitative","scale":{"domain":[-2,2],"nice":false},"axis":{"values":[-2,-1.5,-1,-0.5,0,0.5,1,1.5,2],"labelExpr":"datum.value%2==0?''+datum.value:''","gridColor":{"condition":[{"test":"datum.value==2","value":"#262626"},{"test":"datum.value!=0","value":"transparent"}],"value":"#e0e0e0"},"title":null}}}},
{"width":132,"height":101,"data":{"name":"tor"},"transform":[{"filter":"datum.j==1"}],"mark":{"type":"line","color":"#1f9eff","strokeWidth":1.5},"encoding":{"x":{"field":"t","type":"quantitative","scale":{"domain":[0,8],"nice":false},"axis":{"values":[0,1,2,3,4,5,6,7,8],"labelExpr":"datum.value==0||datum.value==5?''+datum.value:''","gridColor":{"condition":{"test":"datum.value==5","value":"#e0e0e0"},"value":"transparent"},"title":"Time (s)"}},"y":{"field":"q","type":"quantitative","scale":{"domain":[-45,20],"nice":false},"axis":{"values":[-40,-35,-30,-25,-20,-15,-10,-5,0,5,10,15,20],"labelExpr":"datum.value%20==0?''+datum.value:''","gridColor":{"condition":[{"test":"datum.value==20","value":"#262626"},{"test":"datum.value%20!=0","value":"transparent"}],"value":"#e0e0e0"},"title":["Torque","(Nm)"],"titlePadding":12}}}},
{"width":132,"height":101,"data":{"name":"tor"},"transform":[{"filter":"datum.j==2"}],"mark":{"type":"line","color":"#1f9eff","strokeWidth":1.5},"encoding":{"x":{"field":"t","type":"quantitative","scale":{"domain":[0,8],"nice":false},"axis":{"values":[0,1,2,3,4,5,6,7,8],"labelExpr":"datum.value==0||datum.value==5?''+datum.value:''","gridColor":{"condition":{"test":"datum.value==5","value":"#e0e0e0"},"value":"transparent"},"title":"Time (s)"}},"y":{"field":"q","type":"quantitative","scale":{"domain":[-45,20],"nice":false},"axis":{"values":[-40,-35,-30,-25,-20,-15,-10,-5,0,5,10,15,20],"labelExpr":"datum.value%20==0?''+datum.value:''","gridColor":{"condition":[{"test":"datum.value==20","value":"#262626"},{"test":"datum.value%20!=0","value":"transparent"}],"value":"#e0e0e0"},"title":null}}}},
{"width":132,"height":101,"data":{"name":"tor"},"transform":[{"filter":"datum.j==3"}],"mark":{"type":"line","color":"#1f9eff","strokeWidth":1.5},"encoding":{"x":{"field":"t","type":"quantitative","scale":{"domain":[0,8],"nice":false},"axis":{"values":[0,1,2,3,4,5,6,7,8],"labelExpr":"datum.value==0||datum.value==5?''+datum.value:''","gridColor":{"condition":{"test":"datum.value==5","value":"#e0e0e0"},"value":"transparent"},"title":"Time (s)"}},"y":{"field":"q","type":"quantitative","scale":{"domain":[-45,20],"nice":false},"axis":{"values":[-40,-35,-30,-25,-20,-15,-10,-5,0,5,10,15,20],"labelExpr":"datum.value%20==0?''+datum.value:''","gridColor":{"condition":[{"test":"datum.value==20","value":"#262626"},{"test":"datum.value%20!=0","value":"transparent"}],"value":"#e0e0e0"},"title":null}}}},
{"width":132,"height":101,"data":{"name":"tor"},"transform":[{"filter":"datum.j==4"}],"mark":{"type":"line","color":"#1f9eff","strokeWidth":1.5},"encoding":{"x":{"field":"t","type":"quantitative","scale":{"domain":[0,8],"nice":false},"axis":{"values":[0,1,2,3,4,5,6,7,8],"labelExpr":"datum.value==0||datum.value==5?''+datum.value:''","gridColor":{"condition":{"test":"datum.value==5","value":"#e0e0e0"},"value":"transparent"},"title":"Time (s)"}},"y":{"field":"q","type":"quantitative","scale":{"domain":[-45,20],"nice":false},"axis":{"values":[-40,-35,-30,-25,-20,-15,-10,-5,0,5,10,15,20],"labelExpr":"datum.value%20==0?''+datum.value:''","gridColor":{"condition":[{"test":"datum.value==20","value":"#262626"},{"test":"datum.value%20!=0","value":"transparent"}],"value":"#e0e0e0"},"title":null}}}},
{"width":132,"height":101,"data":{"name":"tor"},"transform":[{"filter":"datum.j==5"}],"mark":{"type":"line","color":"#1f9eff","strokeWidth":1.5},"encoding":{"x":{"field":"t","type":"quantitative","scale":{"domain":[0,8],"nice":false},"axis":{"values":[0,1,2,3,4,5,6,7,8],"labelExpr":"datum.value==0||datum.value==5?''+datum.value:''","gridColor":{"condition":{"test":"datum.value==5","value":"#e0e0e0"},"value":"transparent"},"title":"Time (s)"}},"y":{"field":"q","type":"quantitative","scale":{"domain":[-45,20],"nice":false},"axis":{"values":[-40,-35,-30,-25,-20,-15,-10,-5,0,5,10,15,20],"labelExpr":"datum.value%20==0?''+datum.value:''","gridColor":{"condition":[{"test":"datum.value==20","value":"#262626"},{"test":"datum.value%20!=0","value":"transparent"}],"value":"#e0e0e0"},"title":null}}}},
{"width":132,"height":101,"data":{"name":"tor"},"transform":[{"filter":"datum.j==6"}],"mark":{"type":"line","color":"#1f9eff","strokeWidth":1.5},"encoding":{"x":{"field":"t","type":"quantitative","scale":{"domain":[0,8],"nice":false},"axis":{"values":[0,1,2,3,4,5,6,7,8],"labelExpr":"datum.value==0||datum.value==5?''+datum.value:''","gridColor":{"condition":{"test":"datum.value==5","value":"#e0e0e0"},"value":"transparent"},"title":"Time (s)"}},"y":{"field":"q","type":"quantitative","scale":{"domain":[-45,20],"nice":false},"axis":{"values":[-40,-35,-30,-25,-20,-15,-10,-5,0,5,10,15,20],"labelExpr":"datum.value%20==0?''+datum.value:''","gridColor":{"condition":[{"test":"datum.value==20","value":"#262626"},{"test":"datum.value%20!=0","value":"transparent"}],"value":"#e0e0e0"},"title":null}}}},
{"width":132,"height":101,"data":{"name":"tor"},"transform":[{"filter":"datum.j==7"}],"mark":{"type":"line","color":"#1f9eff","strokeWidth":1.5},"encoding":{"x":{"field":"t","type":"quantitative","scale":{"domain":[0,3.2],"nice":false},"axis":{"values":[0,1,2,3],"labelExpr":"datum.value==0||datum.value==2?''+datum.value:''","gridColor":{"condition":{"test":"datum.value==2","value":"#e0e0e0"},"value":"transparent"},"title":"Time (s)"}},"y":{"field":"q","type":"quantitative","scale":{"domain":[-45,20],"nice":false},"axis":{"values":[-40,-35,-30,-25,-20,-15,-10,-5,0,5,10,15,20],"labelExpr":"datum.value%20==0?''+datum.value:''","gridColor":{"condition":[{"test":"datum.value==20","value":"#262626"},{"test":"datum.value%20!=0","value":"transparent"}],"value":"#e0e0e0"},"title":null}}}}
],
"config":{
"font":"DejaVu Sans",
"view":{"stroke":"#262626","strokeWidth":1},
"axis":{"labelFont":"DejaVu Sans","labelFontSize":13,"labelColor":"#404040","titleFont":"DejaVu Sans","titleFontSize":15,"titleFontWeight":"normal","titleColor":"#333333","titleLineHeight":17,"domain":true,"domainColor":"#262626","domainWidth":1,"tickColor":"#262626","tickSize":-3,"minExtent":0},
"axisX":{"labelPadding":15,"titlePadding":4},
"axisY":{"labelPadding":6},
"title":{"font":"DejaVu Sans","fontSize":17.5,"fontWeight":"bold","color":"#111111","offset":-3.5,"frame":"group"}
}
}
